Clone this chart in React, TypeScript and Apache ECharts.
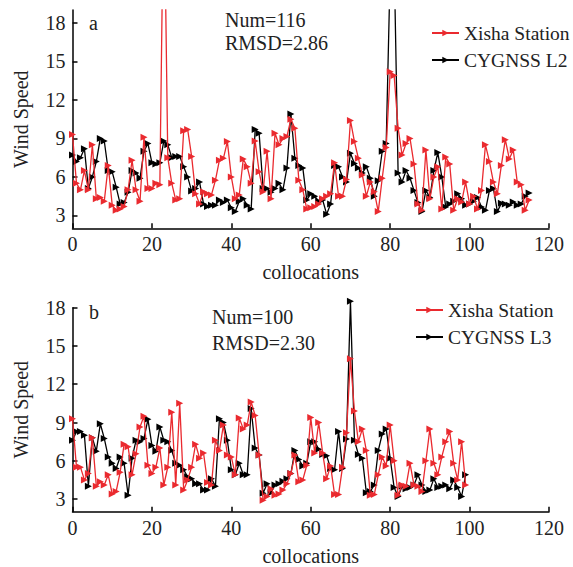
import React, { useEffect, useRef } from "react";
import * as echarts from "echarts";

const X_TICKS = [0, 20, 40, 60, 80, 100, 120];
const Y_TICKS = [3, 6, 9, 12, 15, 18];

const A_XISHA = [
  9.3, 5.5, 5.0, 6.5, 5.0, 8.5, 4.3, 4.4, 4.1, 6.9,
  3.8, 3.4, 3.5, 3.7, 5.0, 7.3, 5.0, 4.1, 9.1, 5.1,
  5.1, 5.5, 5.4, 30, 7.5, 5.5, 4.2, 4.3, 9.6, 9.7,
  7.6, 4.7, 3.9, 4.85, 4.7, 4.6, 5.75, 7.3, 7.45, 8.75,
  6.0, 4.3, 4.6, 7.4, 6.8, 5.5, 8.8, 6.4, 4.85, 8.0,
  4.3, 9.4, 8.5, 9.0, 9.15, 10.5, 9.8, 5.75, 5.0, 3.5,
  3.6, 3.7, 3.9, 4.3, 4.5, 4.7, 7.1, 4.5, 4.5, 5.8,
  10.4, 8.75, 7.45, 6.15, 4.5, 5.6, 4.85, 3.3, 5.9, 8.3,
  14.2, 13.9, 9.8, 7.7, 8.6, 9.0, 7.0, 3.9, 3.4, 8.1,
  4.3, 6.0, 6.8, 3.5, 7.55, 7.0, 3.4, 4.3, 4.05, 5.6,
  3.9, 4.5, 3.5, 4.95, 8.5, 7.2, 5.6, 4.7, 6.9, 8.9,
  7.4, 8.1, 5.6, 5.4, 3.4, 4.2,
];

const A_CYGNSS = [
  7.7, 7.2, 7.5, 8.2, 5.1, 6.0, 7.2, 9.0, 8.8, 6.5,
  6.4, 5.2, 3.9, 4.0, 4.8, 6.5, 6.3, 5.9, 8.0, 8.6,
  7.1, 7.0, 7.1, 8.8, 8.5, 7.5, 7.6, 7.6, 6.8, 6.0,
  4.9, 5.1, 5.6, 3.9, 3.7, 3.8, 3.8, 4.2, 4.0, 4.2,
  3.6, 3.3, 4.1, 4.3, 3.8, 3.5, 9.7, 9.4, 5.1, 5.1,
  4.8, 5.1, 5.5, 5.0, 6.7, 10.9, 7.45, 6.9, 6.7, 4.2,
  4.7, 4.5, 4.1, 4.2, 3.1, 3.9, 6.9, 6.8, 6.0, 5.6,
  7.85, 7.05, 6.7, 6.3, 6.8, 5.9, 4.5, 5.7, 8.0, 8.6,
  22, 23, 6.3, 5.6, 6.5, 5.9, 4.95, 4.0, 3.3, 4.95,
  4.4, 6.5, 7.9, 6.0, 3.65, 3.9, 4.1, 4.7, 4.3, 3.8,
  3.9, 4.1, 4.4, 3.65, 3.4, 4.95, 5.1, 3.3, 3.95, 3.9,
  3.8, 4.05, 3.8, 3.9, 4.5, 4.75,
];

const B_XISHA = [
  9.3, 5.5, 5.5, 4.5, 5.0, 7.8, 4.0, 4.35, 4.1, 4.9,
  3.4, 3.6, 5.1, 7.3, 7.1, 4.9, 6.55, 8.65, 9.5, 5.65,
  5.0, 5.5, 7.0, 4.1, 5.5, 9.8, 4.1, 10.5, 3.7, 4.5,
  5.5, 7.3, 6.2, 6.6, 4.3, 4.1, 7.6, 6.8, 8.8, 6.45,
  6.3, 4.9, 9.35, 8.5, 8.8, 10.6, 9.55, 6.45, 2.9, 3.2,
  3.8, 3.3, 3.4, 3.7, 4.2, 5.0, 6.45, 4.35, 4.5, 5.65,
  9.4, 6.6, 9.0, 6.6, 4.6, 5.6, 3.35, 3.35, 5.5, 8.2,
  14.0, 9.9, 7.5, 8.5, 6.8, 3.3, 3.35, 4.9, 6.3, 5.6,
  8.8, 6.0, 3.3, 4.1, 4.0, 5.8, 4.1, 4.0, 3.6, 6.0,
  8.5, 5.8, 4.9, 6.3, 7.5, 8.3, 5.8, 4.5, 7.5, 4.1,
];

const B_CYGNSS = [
  7.6, 8.3, 8.3, 8.0, 4.0, 7.8, 6.75, 8.9, 7.75, 6.3,
  5.8, 5.4, 6.3, 5.8, 3.3, 6.2, 7.6, 7.5, 7.75, 9.25,
  7.2, 6.75, 8.65, 7.6, 7.5, 6.8, 5.8, 5.65, 5.3, 4.75,
  4.6, 4.2, 4.2, 3.7, 3.7, 4.6, 4.0, 9.3, 9.0, 7.6,
  5.3, 4.9, 5.8, 4.9, 4.9, 10.1, 7.0, 6.45, 3.45, 4.2,
  3.5, 4.1, 4.2, 4.4, 4.6, 5.0, 6.8, 6.1, 5.6, 5.8,
  7.5, 7.5, 6.9, 6.5, 6.4, 5.4, 5.3, 8.3, 5.4, 7.7,
  18.5, 7.6, 6.5, 6.2, 3.5, 3.6, 4.1, 6.8, 8.1, 8.5,
  6.2, 3.9, 3.2, 4.0, 3.8, 3.9, 4.1, 4.9, 4.1, 3.6,
  3.7, 4.6, 3.9, 4.0, 4.1, 3.8, 4.5, 3.9, 3.2, 4.9,
];

const SERIES_NAMES = ["Xisha Station", "CYGNSS L2", "CYGNSS L3"];
const PANEL_LABELS = ["a", "b"];
const STATS_A = ["Num=116", "RMSD=2.86"];
const STATS_B = ["Num=100", "RMSD=2.30"];

const FONT = "'Liberation Serif', 'Times New Roman', serif";
const RED = "#ea2a2f";
const BLACK = "#000000";
const TEXT = "#222222";

const toPairs = (arr: number[]) => arr.map((v, i) => [i, v]);

function makeX(gridIndex: number) {
  return {
    gridIndex,
    type: "value",
    min: 0,
    max: 120,
    interval: 20,
    axisLine: { show: true, onZero: false, lineStyle: { color: "#000", width: 1.5 } },
    axisTick: { show: true, inside: true, length: 5, lineStyle: { color: "#000", width: 1.5 } },
    axisLabel: { color: TEXT, fontFamily: FONT, fontSize: 20, margin: 6, customValues: X_TICKS },
    splitLine: { show: false },
    name: "collocations",
    nameLocation: "middle",
    nameGap: 34,
    nameTextStyle: { color: TEXT, fontFamily: FONT, fontSize: 20 },
  };
}

function makeY(gridIndex: number, max: number) {
  return {
    gridIndex,
    type: "value",
    min: 2,
    max,
    axisLine: { show: true, onZero: false, lineStyle: { color: "#000", width: 1.5 } },
    axisTick: { show: true, inside: true, length: 5, customValues: Y_TICKS, lineStyle: { color: "#000", width: 1.5 } },
    axisLabel: { color: TEXT, fontFamily: FONT, fontSize: 20, margin: 7, customValues: Y_TICKS },
    splitLine: { show: false },
    name: "Wind Speed",
    nameLocation: "middle",
    nameGap: 42,
    nameTextStyle: { color: TEXT, fontFamily: FONT, fontSize: 20 },
  };
}

function makeSeries(name: string, data: number[], color: string, idx: number, clip: boolean) {
  return {
    name,
    type: "line",
    xAxisIndex: idx,
    yAxisIndex: idx,
    data: toPairs(data),
    symbol: "triangle",
    symbolSize: 7,
    symbolRotate: -90,
    showSymbol: true,
    clip,
    lineStyle: { color, width: 1.3 },
    itemStyle: { color },
    z: color === RED ? 3 : 2,
  };
}

function makeLegend(names: string[], left: number, top: number) {
  return {
    data: names,
    orient: "vertical",
    left,
    top,
    padding: 0,
    itemWidth: 27,
    itemHeight: 8,
    itemGap: 7,
    selectedMode: false,
    textStyle: { color: TEXT, fontFamily: FONT, fontSize: 19.5 },
  };
}

function txt(text: string, left: number, top: number) {
  return {
    type: "text",
    left,
    top,
    style: { text, fill: TEXT, font: `20px ${FONT}` },
  };
}

export default function App() {
  const ref = useRef<HTMLDivElement>(null);
  useEffect(() => {
    if (!ref.current) return;
    const chart = echarts.init(ref.current, null, { renderer: "svg" });
    chart.setOption({
      animation: false,
      backgroundColor: "#ffffff",
      grid: [
        { left: 72.5, right: 24, top: 10, height: 218.3 },
        { left: 72.5, right: 24, top: 307.7, height: 204.1 },
      ],
      xAxis: [makeX(0), makeX(1)],
      yAxis: [makeY(0, 19), makeY(1, 18)],
      legend: [
        makeLegend([SERIES_NAMES[0], SERIES_NAMES[1]], 431, 23),
        makeLegend([SERIES_NAMES[0], SERIES_NAMES[2]], 415, 300),
      ],
      series: [
        makeSeries(SERIES_NAMES[1], A_CYGNSS, BLACK, 0, true),
        makeSeries(SERIES_NAMES[0], A_XISHA, RED, 0, true),
        makeSeries(SERIES_NAMES[2], B_CYGNSS, BLACK, 1, false),
        makeSeries(SERIES_NAMES[0], B_XISHA, RED, 1, false),
      ],
      graphic: [
        txt(PANEL_LABELS[0], 89, 13),
        txt(STATS_A[0], 225, 10),
        txt(STATS_A[1], 225, 33),
        txt(PANEL_LABELS[1], 89, 302),
        txt(STATS_B[0], 212, 307),
        txt(STATS_B[1], 212, 333),
      ],
    });
    return () => chart.dispose();
  }, []);
  return (
    <div
      ref={ref}
      style={{ position: "fixed", left: 0, top: 0, width: 573, height: 567 }}
    />
  );
}
